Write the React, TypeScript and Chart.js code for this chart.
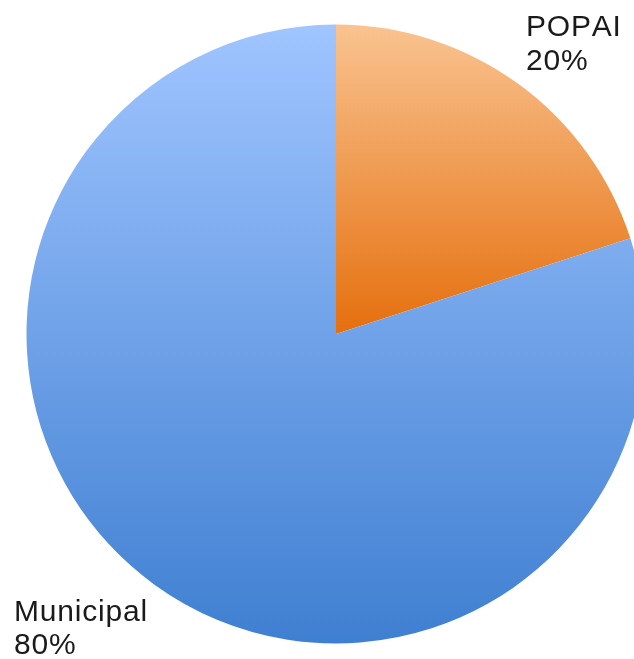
import React, { useEffect, useRef } from "react";
import { Chart, registerables } from "chart.js";

Chart.register(...registerables);

const categories = ["POPAI", "Municipal"];
const values = [20, 80];
const percentLabels = ["20%", "80%"];
const gradientTop = ["#F9C390", "#A0C5FF"];
const gradientBottom = ["#E56F0E", "#3F7FD1"];

const labelPlugin = {
  id: "sliceLabels",
  afterDraw(chart: any) {
    const ctx = chart.ctx;
    ctx.save();
    ctx.font = "30px 'Liberation Sans', Arial, sans-serif";
    ctx.fillStyle = "#1a1a1a";
    ctx.textBaseline = "alphabetic";
    ctx.textAlign = "left";
    try { ctx.fontKerning = "none"; } catch (e) {}
    ctx.letterSpacing = "0.8px";
    const pos = [
      [526, 36, 34],
      [14, 621, 33],
    ];
    categories.forEach((c, i) => {
      const [x, y, lh] = pos[i];
      ctx.fillText(c, x, y);
      ctx.fillText(percentLabels[i], x, y + lh);
    });
    ctx.restore();
  },
};

export default function App() {
  const ref = useRef<HTMLCanvasElement>(null);
  useEffect(() => {
    if (!ref.current) return;
    const chart = new Chart(ref.current, {
      type: "pie",
      data: {
        labels: categories,
        datasets: [
          {
            data: values,
            borderWidth: 0,
            backgroundColor: (c: any) => {
              const ch = c.chart;
              const area = ch.chartArea;
              if (!area) return gradientBottom[c.dataIndex];
              const i = c.dataIndex;
              const cy = (area.top + area.bottom) / 2;
              const y0 = area.top;
              const y1 = i === 0 ? cy : area.bottom;
              const g = ch.ctx.createLinearGradient(0, y0, 0, y1);
              g.addColorStop(0, gradientTop[i]);
              g.addColorStop(1, gradientBottom[i]);
              return g;
            },
          },
        ],
      },
      options: {
        animation: false,
        responsive: false,
        layout: { padding: { left: 26.5, right: 26.5, top: 24.5, bottom: 24.5 } },
        plugins: { legend: { display: false }, tooltip: { enabled: false } },
      },
      plugins: [labelPlugin],
    });
    return () => chart.destroy();
  }, []);
  return (
    <div style={{ position: "fixed", left: 0, top: 0, width: 634, height: 659, overflow: "hidden", background: "#fff" }}>
      <canvas ref={ref} width={672} height={668} style={{ display: "block", width: 672, height: 668 }} />
    </div>
  );
}
